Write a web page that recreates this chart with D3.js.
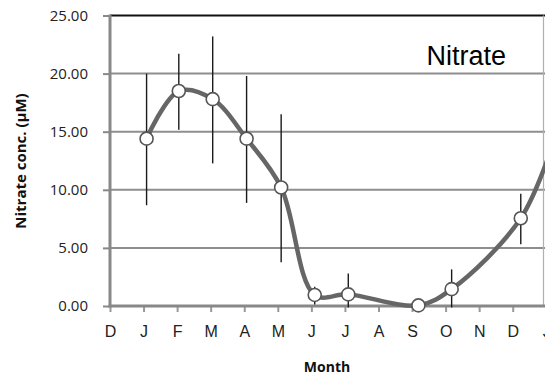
<!DOCTYPE html>
<html>
<head>
<meta charset="utf-8">
<script src="https://cdn.jsdelivr.net/npm/d3@7"></script>
<style>
  html, body { margin: 0; padding: 0; background: #fff; }
  svg { display: block; }
</style>
</head>
<body>
<svg id="chart" width="545" height="377"></svg>
<script>
// Month tick labels, starting from the December before the sampling year
const monthLabels = ["D", "J", "F", "M", "A", "M", "J", "J", "A", "S", "O", "N", "D", "J"];
// Sampling position in months after the start of December
const sampleMonth = [1.09, 2.05, 3.06, 4.07, 5.10, 6.10, 7.10, 9.19, 10.18, 12.24, 13.25];
// Mean nitrate concentration (µM)
const nitrate = [14.4, 18.5, 17.8, 14.4, 10.2, 0.95, 1.0, 0.05, 1.45, 7.55, 14.4];
// Error bar half-widths (µM)
const nitrateErr = [5.6, 3.2, 5.4, 5.4, 6.3, 0.7, 1.8, 0, 1.7, 2.1, 5.6];
// Y axis ticks
const yTicks = [0, 5, 10, 15, 20, 25];

const svg = d3.select("#chart");
const plotLeft = 110, plotTop = 15.5, plotBottom = 306, plotRight = 543.5;
const monthStep = 33.56;

const x = d3.scaleLinear().domain([0, 13]).range([plotLeft, plotLeft + 13 * monthStep]);
const y = d3.scaleLinear().domain([0, 25]).range([plotBottom, plotTop]);

// Horizontal gridlines
svg.append("g").selectAll("line")
  .data(yTicks.filter(d => d > 0 && d < 25))
  .join("line")
  .attr("x1", plotLeft).attr("x2", 545)
  .attr("y1", d => y(d)).attr("y2", d => y(d))
  .attr("stroke", "#8e8e8e").attr("stroke-width", 2);

// Top border
svg.append("line")
  .attr("x1", plotLeft).attr("x2", 545)
  .attr("y1", y(25)).attr("y2", y(25))
  .attr("stroke", "#111").attr("stroke-width", 2);

// Right border
svg.append("line")
  .attr("x1", plotRight).attr("x2", plotRight)
  .attr("y1", y(25)).attr("y2", plotBottom)
  .attr("stroke", "#b0b0b0").attr("stroke-width", 1.2);

// Y axis
const yAxis = d3.axisLeft(y).tickValues(yTicks).tickFormat(d3.format(".2f"))
  .tickSize(7).tickPadding(15);
const gy = svg.append("g").attr("transform", `translate(${plotLeft},0)`).call(yAxis);
gy.select(".domain").remove();
gy.selectAll(".tick line").attr("stroke", "#888").attr("stroke-width", 2);
gy.selectAll(".tick text")
  .attr("font-family", "'Open Sans', sans-serif").attr("font-size", 15)
  .attr("fill", "#222");
svg.append("line")
  .attr("x1", plotLeft).attr("x2", plotLeft)
  .attr("y1", y(25) - 1).attr("y2", plotBottom + 1.5)
  .attr("stroke", "#888").attr("stroke-width", 3);

// X axis
const xAxis = d3.axisBottom(x).tickValues(d3.range(monthLabels.length))
  .tickFormat(i => monthLabels[i]).tickSize(6).tickPadding(14);
const gx = svg.append("g").attr("transform", `translate(0,${plotBottom})`).call(xAxis);
gx.select(".domain").remove();
gx.selectAll(".tick line").attr("stroke", "#999").attr("stroke-width", 2);
gx.selectAll(".tick text")
  .attr("font-family", "'Liberation Sans', Arial, sans-serif").attr("font-size", 16)
  .attr("fill", "#222");
svg.append("line")
  .attr("x1", plotLeft - 1.5).attr("x2", 545)
  .attr("y1", plotBottom).attr("y2", plotBottom)
  .attr("stroke", "#888").attr("stroke-width", 3);

const pts = sampleMonth.map((m, i) => ({ m, v: nitrate[i], e: nitrateErr[i] }));

// Error bars, clipped at the x axis
svg.append("g").selectAll("line")
  .data(pts.filter(p => p.e > 0))
  .join("line")
  .attr("x1", p => x(p.m)).attr("x2", p => x(p.m))
  .attr("y1", p => y(p.v + p.e))
  .attr("y2", p => Math.min(y(Math.max(p.v - p.e, 0)) + 1.5, plotBottom + 2))
  .attr("stroke", "#1a1a1a").attr("stroke-width", 1.4);

// Smoothed seasonal line
const line = d3.line().x(p => x(p.m)).y(p => y(p.v)).curve(d3.curveCatmullRom.alpha(0.5));
svg.append("path").datum(pts)
  .attr("d", line)
  .attr("fill", "none").attr("stroke", "#666").attr("stroke-width", 4.5)
  .attr("stroke-linejoin", "round");

// Sample markers
svg.append("g").selectAll("circle")
  .data(pts)
  .join("circle")
  .attr("cx", p => x(p.m)).attr("cy", p => y(p.v))
  .attr("r", 6.5)
  .attr("fill", "#fff").attr("stroke", "#555").attr("stroke-width", 1.6);

// Axis titles
svg.append("text")
  .attr("transform", `translate(26,161) rotate(-90)`)
  .attr("text-anchor", "middle")
  .attr("font-family", "'Open Sans', sans-serif").attr("font-weight", "bold")
  .attr("font-size", 15).attr("fill", "#111")
  .text("Nitrate conc. (\u03bcM)");

svg.append("text")
  .attr("x", 327).attr("y", 372)
  .attr("text-anchor", "middle")
  .attr("font-family", "'Open Sans', sans-serif").attr("font-weight", "bold")
  .attr("font-size", 14).attr("fill", "#111")
  .text("Month");

// Panel label
svg.append("text")
  .attr("x", 506).attr("y", 65)
  .attr("text-anchor", "end")
  .attr("font-family", "'Liberation Sans', Arial, sans-serif")
  .attr("font-size", 27).attr("fill", "#000")
  .text("Nitrate");
</script>
</body>
</html>
